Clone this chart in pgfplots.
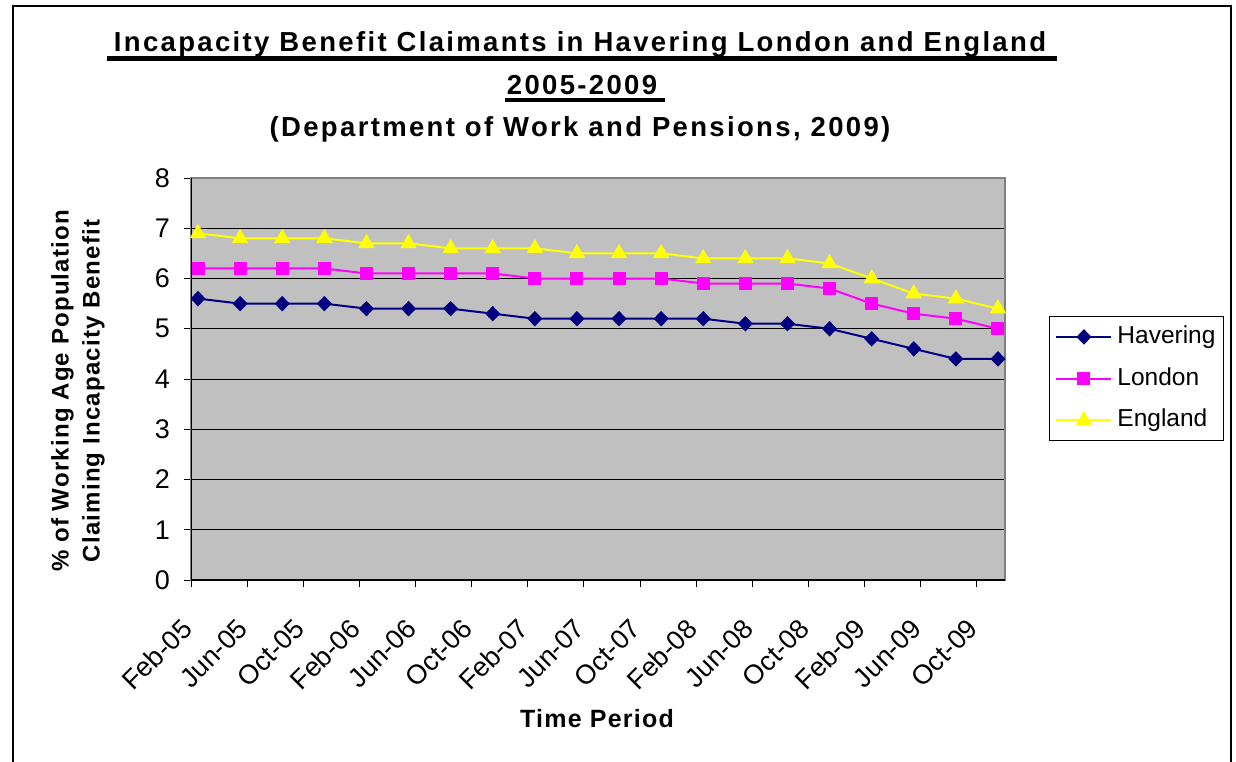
\documentclass[border=0pt]{standalone}
\usepackage{fontspec}
\setmainfont{Liberation Sans}
\newfontfamily\titlefont[LetterSpace=8.5]{Liberation Sans}
\newfontfamily\labfont[LetterSpace=5]{Liberation Sans}
\usepackage{pgfplots}
\pgfplotsset{compat=1.18}
\definecolor{havering}{HTML}{000080}
\definecolor{london}{HTML}{FF00FF}
\definecolor{england}{HTML}{FFFF00}
\definecolor{plotbg}{HTML}{C0C0C0}
\definecolor{plotframe}{HTML}{808080}
\begin{document}
\begin{tikzpicture}
\useasboundingbox (0,0) rectangle (1236bp,-762bp);
\fill[white] (0,0) rectangle (1236bp,-762bp);
% outer frame
\draw[line width=2bp] (13bp,-762bp) -- (13bp,-5.5bp) -- (1231bp,-5.5bp) -- (1231bp,-762bp);
% title
\node[anchor=base, inner sep=0pt, font=\titlefont\bfseries\fontsize{27.5bp}{30bp}\selectfont] at (580bp,-51.7bp) {Incapacity Benefit Claimants in Havering London and England};
\fill[black] (107bp,-56.2bp) rectangle (1057bp,-60.5bp);
\node[anchor=base, inner sep=0pt, font=\titlefont\bfseries\fontsize{27.5bp}{30bp}\selectfont] at (582bp,-94bp) {2005-2009};
\fill[black] (505bp,-97.7bp) rectangle (665bp,-101.9bp);
\node[anchor=base, inner sep=0pt, font=\titlefont\bfseries\fontsize{27.5bp}{30bp}\selectfont] at (580bp,-136.5bp) {(Department of Work and Pensions, 2009)};
% y label
\node[rotate=90, align=center, inner sep=0pt, font=\labfont\bfseries\fontsize{24bp}{31bp}\selectfont] at (78bp,-391bp) {\% of Working Age Population\\Claiming Incapacity Benefit};
% x label
\node[anchor=base, inner sep=0pt, font=\labfont\bfseries\fontsize{25bp}{30bp}\selectfont] at (597bp,-727bp) {Time Period};
\begin{axis}[
  at={(191bp,-580bp)}, anchor=south west,
  scale only axis, width=814bp, height=402bp,
  xmin=0, xmax=58, ymin=0, ymax=8,
  xtick={0,4,...,56},
  xticklabels={Feb-05,Jun-05,Oct-05,Feb-06,Jun-06,Oct-06,Feb-07,Jun-07,Oct-07,Feb-08,Jun-08,Oct-08,Feb-09,Jun-09,Oct-09},
  ytick={0,1,...,8},
  xtick pos=left, ytick pos=left,
  tick align=outside, major tick length=7bp,
  tick style={black, line width=1bp},
  /pgf/number format/assume math mode=true,
  yticklabel style={font=\fontsize{27bp}{30bp}\selectfont, inner sep=0pt, anchor=east, xshift=-14bp},
  xticklabel style={font=\fontsize{27bp}{30bp}\selectfont, inner sep=0pt, anchor=east, xshift=-4bp, yshift=-37bp, rotate=45},
  axis background/.style={fill=plotbg},
  axis line style={draw=plotframe, line width=1.5bp},
  ymajorgrids, grid style={black, line width=1bp},
  legend image code/.code={\draw[mark repeat=2,mark phase=2,#1] plot coordinates {(0bp,0bp) (27.5bp,0bp) (55bp,0bp)};},
  legend style={at={(1.054,0.657)}, anchor=north west, draw=black, line width=1bp, fill=white,
    font=\fontsize{24.5bp}{30bp}\selectfont, inner xsep=6bp, inner ysep=7bp,
    nodes={inner sep=2bp, text height=18bp, text depth=5bp},
    row sep=14.7bp,
    /tikz/every odd column/.append style={column sep=3bp}},
  legend cell align=left,
]
\addplot[havering, line width=2bp, mark=diamond*, mark size=6.3bp, mark options={fill=havering, draw=havering, xscale=1.3}] coordinates {
(0.5,5.6)(3.5,5.5)(6.5,5.5)(9.5,5.5)(12.5,5.4)(15.5,5.4)(18.5,5.4)(21.5,5.3)(24.5,5.2)(27.5,5.2)
(30.5,5.2)(33.5,5.2)(36.5,5.2)(39.5,5.1)(42.5,5.1)(45.5,5.0)(48.5,4.8)(51.5,4.6)(54.5,4.4)(57.5,4.4)};
\addlegendentry{Havering}
\addplot[london, line width=2bp, mark=square*, mark size=5.5bp, mark options={fill=london, draw=london}] coordinates {
(0.5,6.2)(3.5,6.2)(6.5,6.2)(9.5,6.2)(12.5,6.1)(15.5,6.1)(18.5,6.1)(21.5,6.1)(24.5,6.0)(27.5,6.0)
(30.5,6.0)(33.5,6.0)(36.5,5.9)(39.5,5.9)(42.5,5.9)(45.5,5.8)(48.5,5.5)(51.5,5.3)(54.5,5.2)(57.5,5.0)};
\addlegendentry{London}
\addplot[england, line width=2bp, mark=triangle*, mark size=7.5bp, mark options={fill=england, draw=england}] coordinates {
(0.5,6.9)(3.5,6.8)(6.5,6.8)(9.5,6.8)(12.5,6.7)(15.5,6.7)(18.5,6.6)(21.5,6.6)(24.5,6.6)(27.5,6.5)
(30.5,6.5)(33.5,6.5)(36.5,6.4)(39.5,6.4)(42.5,6.4)(45.5,6.3)(48.5,6.0)(51.5,5.7)(54.5,5.6)(57.5,5.4)};
\addlegendentry{England}
\draw[black, line width=1.5bp] (rel axis cs:0,1) -- (rel axis cs:0,0) -- (rel axis cs:1,0);
\end{axis}
\end{tikzpicture}
\end{document}
